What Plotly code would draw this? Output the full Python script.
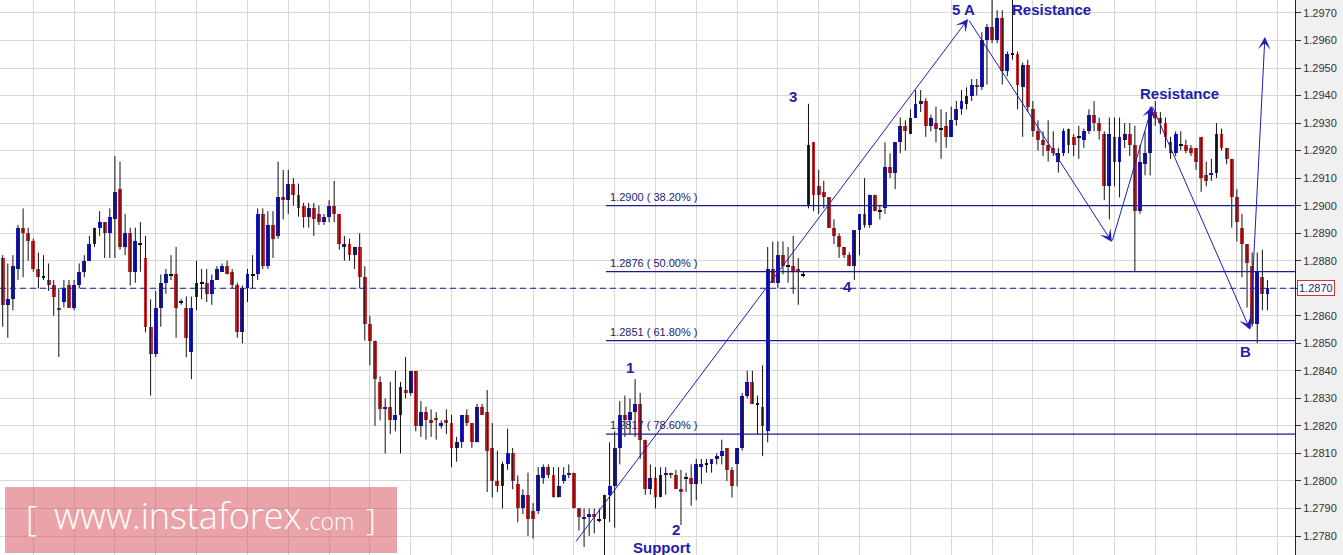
import plotly.graph_objects as go

# ---------------- data (H1 candles) ----------------
opens = [1.2881,1.2864,1.2866,1.2877,1.2892,1.2890,1.2887,1.2877,1.2874,1.2873,
         1.2871,1.2863,1.2865,1.2871,1.2863,1.2871,1.2876,1.2880,1.2886,1.2892,
         1.2894,1.2890,1.2895,1.2906,1.2885,1.2890,1.2876,1.2886,1.2881,1.2856,
         1.2846,1.2863,1.2872,1.2875,1.2875,1.2865,1.2863,1.2847,1.2867,1.2872,
         1.2872,1.2868,1.2873,1.2876,1.2878,1.2876,1.2871,1.2854,1.2870,1.2875,
         1.2875,1.2897,1.2878,1.2893,1.2889,1.2903,1.2902,1.2908,1.2904,1.2900,
         1.2896,1.2899,1.2897,1.2894,1.2896,1.2900,1.2897,1.2885,1.2886,1.2882,
         1.2885,1.2874,1.2857,1.2851,1.2836,1.2826,1.2827,1.2822,1.2824,1.2833,
         1.2832,1.2840,1.2820,1.2825,1.2822,1.2823,1.2820,1.2822,1.2821,1.2812,
         1.2814,1.2824,1.2821,1.2814,1.2827,1.2825,1.2812,1.2800,1.2798,1.2806,
         1.2810,1.2799,1.2790,1.2795,1.2789,1.2789,1.2801,1.2805,1.2802,1.2794,
         1.2800,1.2802,1.2803,1.2790,1.2786,1.2787,1.2788,1.2786,1.2786,1.2795,
         1.2798,1.2812,1.2824,1.2822,1.2825,1.2828,1.2815,1.2797,1.2801,1.2794,
         1.2802,1.2803,1.2802,1.2797,1.2801,1.2801,1.2799,1.2805,1.2806,1.2806,
         1.2808,1.2809,1.2812,1.2804,1.2806,1.2812,1.2831,1.2836,1.2828,1.2827,
         1.2818,1.2877,1.2872,1.2882,1.2878,1.2878,1.2877,1.2875,1.2900,1.2923,
         1.2907,1.2905,1.2903,1.2892,1.2889,1.2885,1.2882,1.2878,1.2891,1.2897,
         1.2893,1.2904,1.2898,1.2899,1.2914,1.2912,1.2923,1.2929,1.2926,1.2932,
         1.2937,1.2938,1.2929,1.2930,1.2928,1.2929,1.2925,1.2931,1.2935,1.2937,
         1.2940,1.2944,1.2943,1.2960,1.2965,1.2960,1.2968,1.2949,1.2955,1.2955,
         1.2943,1.2951,1.2935,1.2927,1.2924,1.2922,1.2921,1.2916,1.2919,1.2928,
         1.2925,1.2925,1.2924,1.2927,1.2933,1.2930,1.2926,1.2907,1.2925,1.2916,
         1.2924,1.2926,1.2922,1.2898,1.2915,1.2919,1.2934,1.2932,1.2930,1.2923,
         1.2919,1.2922,1.2922,1.2921,1.2921,1.2925,1.2911,1.2911,1.2912,1.2926,
         1.2921,1.2917,1.2903,1.2892,1.2886,1.2878,1.2857,1.2874,1.2868]
highs = [1.2882,1.2879,1.2882,1.2893,1.2899,1.2892,1.2888,1.2883,1.2882,1.2879,
         1.2873,1.2870,1.2873,1.2873,1.2873,1.2879,1.2882,1.2889,1.2892,1.2898,
         1.2894,1.2899,1.2918,1.2916,1.2897,1.2892,1.2892,1.2894,1.2889,1.2866,
         1.2869,1.2875,1.2877,1.2882,1.2885,1.2866,1.2867,1.2867,1.2880,1.2877,
         1.2877,1.2875,1.2878,1.2879,1.2880,1.2877,1.2872,1.2871,1.2877,1.2882,
         1.2899,1.2899,1.2898,1.2898,1.2916,1.2913,1.2913,1.2910,1.2908,1.2901,
         1.2901,1.2901,1.2900,1.2897,1.2902,1.2909,1.2897,1.2889,1.2888,1.2885,
         1.2890,1.2878,1.2860,1.2851,1.2838,1.2830,1.2836,1.2840,1.2836,1.2845,
         1.2840,1.2840,1.2829,1.2827,1.2826,1.2825,1.2822,1.2826,1.2824,1.2816,
         1.2824,1.2826,1.2821,1.2828,1.2828,1.2833,1.2821,1.2811,1.2807,1.2819,
         1.2812,1.2802,1.2797,1.2803,1.2792,1.2805,1.2806,1.2806,1.2805,1.2805,
         1.2805,1.2806,1.2803,1.2790,1.2790,1.2790,1.2790,1.2790,1.2795,1.2814,
         1.2818,1.2829,1.2831,1.2830,1.2837,1.2832,1.2815,1.2806,1.2805,1.2805,
         1.2805,1.2803,1.2804,1.2804,1.2803,1.2806,1.2808,1.2808,1.2808,1.2808,
         1.2810,1.2815,1.2812,1.2805,1.2812,1.2832,1.2840,1.2840,1.2831,1.2842,
         1.2885,1.2887,1.2887,1.2887,1.2885,1.2889,1.2881,1.2876,1.2937,1.2923,
         1.2913,1.2909,1.2903,1.2895,1.2890,1.2885,1.2883,1.2891,1.2897,1.2910,
         1.2904,1.2904,1.2900,1.2923,1.2919,1.2923,1.2932,1.2931,1.2935,1.2942,
         1.2942,1.2939,1.2933,1.2936,1.2935,1.2934,1.2936,1.2938,1.2942,1.2943,
         1.2946,1.2946,1.2963,1.2966,1.2975,1.2971,1.2971,1.2956,1.2975,1.2956,
         1.2952,1.2953,1.2938,1.2931,1.2927,1.2931,1.2927,1.2921,1.2928,1.2928,
         1.2926,1.2929,1.2928,1.2935,1.2938,1.2932,1.2927,1.2932,1.2932,1.2932,
         1.2930,1.2930,1.2929,1.2922,1.2927,1.2936,1.2938,1.2934,1.2932,1.2925,
         1.2927,1.2927,1.2924,1.2922,1.2921,1.2925,1.2916,1.2917,1.2930,1.2928,
         1.2921,1.2917,1.2906,1.2897,1.2886,1.2883,1.2883,1.2884,1.2873]
lows = [1.2856,1.2852,1.2862,1.2873,1.2874,1.2880,1.2876,1.2870,1.2873,1.2869,
        1.2860,1.2845,1.2863,1.2863,1.2862,1.2870,1.2874,1.2880,1.2885,1.2889,
        1.2881,1.2881,1.2881,1.2884,1.2882,1.2871,1.2872,1.2876,1.2854,1.2831,
        1.2845,1.2856,1.2868,1.2873,1.2852,1.2864,1.2845,1.2837,1.2862,1.2866,
        1.2865,1.2864,1.2873,1.2876,1.2875,1.2870,1.2852,1.2850,1.2865,1.2870,
        1.2873,1.2877,1.2877,1.2881,1.2888,1.2895,1.2897,1.2900,1.2896,1.2892,
        1.2892,1.2889,1.2893,1.2893,1.2894,1.2894,1.2884,1.2880,1.2880,1.2877,
        1.2870,1.2851,1.2842,1.2820,1.2822,1.2810,1.2817,1.2818,1.2810,1.2830,
        1.2831,1.2818,1.2816,1.2815,1.2816,1.2815,1.2819,1.2817,1.2805,1.2807,
        1.2812,1.2820,1.2812,1.2814,1.2824,1.2796,1.2794,1.2796,1.2790,1.2804,
        1.2797,1.2785,1.2788,1.2780,1.2779,1.2788,1.2799,1.2801,1.2794,1.2794,
        1.2799,1.2801,1.2790,1.2782,1.2776,1.2780,1.2781,1.2785,1.2772,1.2785,
        1.2783,1.2806,1.2816,1.2817,1.2816,1.2808,1.2795,1.2795,1.2790,1.2794,
        1.2795,1.2801,1.2797,1.2784,1.2796,1.2791,1.2793,1.2799,1.2803,1.2803,
        1.2806,1.2806,1.2800,1.2794,1.2798,1.2811,1.2830,1.2828,1.2817,1.2809,
        1.2814,1.2872,1.2870,1.2875,1.2872,1.2868,1.2864,1.2874,1.2899,1.2898,
        1.2897,1.2899,1.2892,1.2886,1.2881,1.2881,1.2878,1.2873,1.2882,1.2892,
        1.2892,1.2898,1.2895,1.2897,1.2910,1.2906,1.2919,1.2920,1.2926,1.2932,
        1.2934,1.2925,1.2927,1.2923,1.2917,1.2921,1.2925,1.2929,1.2933,1.2935,
        1.2938,1.2940,1.2942,1.2944,1.2959,1.2959,1.2944,1.2947,1.2953,1.2935,
        1.2925,1.2934,1.2925,1.2920,1.2918,1.2916,1.2918,1.2912,1.2918,1.2919,
        1.2918,1.2917,1.2921,1.2926,1.2927,1.2924,1.2902,1.2895,1.2907,1.2903,
        1.2921,1.2918,1.2876,1.2897,1.2911,1.2911,1.2929,1.2926,1.2921,1.2917,
        1.2918,1.2920,1.2919,1.2918,1.2913,1.2905,1.2907,1.2909,1.2910,1.2920,
        1.2915,1.2892,1.2887,1.2874,1.2863,1.2856,1.2850,1.2862,1.2862]
closes = [1.2864,1.2866,1.2878,1.2892,1.2890,1.2887,1.2877,1.2874,1.2874,1.2871,
          1.2867,1.2862,1.2870,1.2863,1.2871,1.2876,1.2880,1.2886,1.2892,1.2894,
          1.2890,1.2896,1.2905,1.2885,1.2890,1.2876,1.2887,1.2886,1.2856,1.2846,
          1.2863,1.2872,1.2875,1.2875,1.2863,1.2865,1.2852,1.2863,1.2872,1.2872,
          1.2868,1.2873,1.2877,1.2878,1.2875,1.2871,1.2854,1.2870,1.2875,1.2875,
          1.2897,1.2878,1.2893,1.2888,1.2903,1.2902,1.2908,1.2904,1.2899,1.2896,
          1.2899,1.2895,1.2894,1.2896,1.2900,1.2897,1.2886,1.2886,1.2882,1.2885,
          1.2874,1.2857,1.2851,1.2837,1.2826,1.2827,1.2822,1.2824,1.2834,1.2832,
          1.2840,1.2820,1.2825,1.2822,1.2821,1.2822,1.2821,1.2821,1.2812,1.2814,
          1.2824,1.2821,1.2814,1.2827,1.2824,1.2811,1.2800,1.2798,1.2806,1.2810,
          1.2800,1.2790,1.2795,1.2786,1.2786,1.2802,1.2805,1.2802,1.2794,1.2798,
          1.2802,1.2803,1.2790,1.2787,1.2787,1.2788,1.2787,1.2786,1.2795,1.2798,
          1.2812,1.2824,1.2822,1.2825,1.2828,1.2815,1.2797,1.2801,1.2794,1.2802,
          1.2803,1.2802,1.2797,1.2796,1.2801,1.2799,1.2806,1.2806,1.2806,1.2808,
          1.2809,1.2811,1.2804,1.2798,1.2812,1.2831,1.2836,1.2828,1.2828,1.2820,
          1.2877,1.2872,1.2882,1.2878,1.2878,1.2876,1.2876,1.2875,1.2922,1.2904,
          1.2904,1.2903,1.2892,1.2889,1.2885,1.2882,1.2878,1.2891,1.2897,1.2893,
          1.2904,1.2898,1.2898,1.2914,1.2912,1.2923,1.2929,1.2927,1.2932,1.2937,
          1.2938,1.2929,1.2932,1.2928,1.2928,1.2925,1.2931,1.2935,1.2938,1.2940,
          1.2944,1.2943,1.2960,1.2965,1.2960,1.2968,1.2949,1.2955,1.2955,1.2944,
          1.2951,1.2936,1.2927,1.2924,1.2922,1.2920,1.2919,1.2919,1.2927,1.2922,
          1.2922,1.2925,1.2927,1.2933,1.2930,1.2927,1.2907,1.2926,1.2916,1.2925,
          1.2926,1.2922,1.2898,1.2916,1.2919,1.2934,1.2932,1.2930,1.2925,1.2919,
          1.2926,1.2922,1.2920,1.2919,1.2916,1.2910,1.2909,1.2912,1.2926,1.2921,
          1.2917,1.2903,1.2894,1.2886,1.2879,1.2857,1.2876,1.2868,1.2870]

price_ticks = [1.2780,1.2790,1.2800,1.2810,1.2820,1.2830,1.2840,1.2850,1.2860,1.2870,
               1.2880,1.2890,1.2900,1.2910,1.2920,1.2930,1.2940,1.2950,1.2960,1.2970]
time_grid = [6,14,22,30,38,48,56,64,72,80,88,96,104,112,120,128,136,144,152,160,
             168,178,186,194,202,210,218,226,234,242,250]

fib_levels = [1.2900, 1.2876, 1.2851, 1.2817]
fib_texts = ["1.2900 ( 38.20% )", "1.2876 ( 50.00% )", "1.2851 ( 61.80% )", "1.2817 ( 78.60% )"]
fib_start = 118.3
last_price = 1.2870

wave_x = [112.2, 189.3, 217.5, 225.4, 244.6, 247.5]
wave_y = [1.27775, 1.29678, 1.28868, 1.29362, 1.28549, 1.29613]

label_texts = ["5 A", "Resistance", "3", "Resistance", "4", "1", "2", "Support", "B"]
label_x = [188.3, 205.6, 155.0, 230.8, 165.7, 123.0, 132.0, 129.3, 243.6]
label_y = [1.29711, 1.29713, 1.29395, 1.29406, 1.28705, 1.28411, 1.27822, 1.27757, 1.28469]

X_RANGE = [-0.53, 253.4]
Y_RANGE = [1.27731, 1.29747]

BLUE = "#1717c4"
RED = "#d22a2e"
NAVY = "#1c1c8c"
LABEL = "#1e1ea6"

n = len(opens)
idx = list(range(n))

# wicks
wx, wy = [], []
for i in idx:
    wx += [i, i, None]
    wy += [lows[i], highs[i], None]

# bodies
base, height, colors = [], [], []
for i in idx:
    o, c = opens[i], closes[i]
    lo = min(o, c)
    h = abs(c - o)
    if h < 0.00004:
        h = 0.00004
        lo = (o + c) / 2 - 0.00002
        colors.append("#111111")
    else:
        colors.append(BLUE if c > o else RED)
    base.append(lo)
    height.append(h)

fig = go.Figure()
fig.add_trace(go.Scatter(x=wx, y=wy, mode="lines", line=dict(color="#111111", width=1),
                         hoverinfo="skip", showlegend=False))
fig.add_trace(go.Bar(x=idx, y=height, base=base, width=0.75, marker=dict(color=colors, line=dict(width=0)),
                     hoverinfo="skip", showlegend=False))

shapes = []
annotations = []

# fibonacci levels
for lvl, txt in zip(fib_levels, fib_texts):
    shapes.append(dict(type="line", xref="x", yref="y", x0=fib_start, x1=X_RANGE[1], y0=lvl, y1=lvl,
                       line=dict(color=NAVY, width=1.3), layer="above"))
    annotations.append(dict(x=fib_start + 0.4, y=lvl, xref="x", yref="y", text=txt, showarrow=False,
                            xanchor="left", yanchor="bottom", yshift=1,
                            font=dict(family="Liberation Sans, Arial", size=11, color="#22226e")))

# current price dashed line
shapes.append(dict(type="line", xref="paper", yref="y", x0=0, x1=1, y0=last_price, y1=last_price,
                   line=dict(color=NAVY, width=1.2, dash="6px,4px"), layer="above"))

# wave arrows
for k in range(len(wave_x) - 1):
    annotations.append(dict(x=wave_x[k + 1], y=wave_y[k + 1], ax=wave_x[k], ay=wave_y[k],
                            xref="x", yref="y", axref="x", ayref="y", text="", showarrow=True,
                            arrowhead=3, arrowsize=2.1, arrowwidth=1, arrowcolor="#1d1db8",
                            standoff=0, startstandoff=0))

# wave labels
for t, x, y in zip(label_texts, label_x, label_y):
    annotations.append(dict(x=x, y=y, xref="x", yref="y", text="<b>%s</b>" % t, showarrow=False,
                            font=dict(family="Liberation Sans, Arial", size=15, color=LABEL)))

# current price box (replaces the tick label at that level)
annotations.append(dict(x=1, y=last_price, xref="paper", yref="y", text="%.4f" % last_price,
                        showarrow=False, xanchor="left", xshift=2, bgcolor="white",
                        bordercolor="#cc3333", borderwidth=1, borderpad=1,
                        font=dict(family="Liberation Sans, Arial", size=11, color="#22227a")))
tick_text = ["" if abs(v - last_price) < 1e-9 else "%.4f" % v for v in price_ticks]

# watermark
W, H = 1295.0, 555.0
shapes.append(dict(type="rect", xref="paper", yref="paper", x0=5 / W, x1=397 / W,
                   y0=1 - 553 / H, y1=1 - 487 / H, fillcolor="rgba(214,72,82,0.5)",
                   line=dict(width=0), layer="above"))
wm_font = dict(family="Open Sans, Lato, sans-serif", color="white")
annotations.append(dict(x=24 / W, y=1 - 518 / H, xref="paper", yref="paper", text="[", showarrow=False,
                        xanchor="left", yanchor="middle", font=dict(size=34, weight=300, **wm_font)))
annotations.append(dict(x=52 / W, y=1 - 515 / H, xref="paper", yref="paper", text="www.instaforex",
                        showarrow=False, xanchor="left", yanchor="middle",
                        font=dict(size=36, weight=300, **wm_font)))
annotations.append(dict(x=302 / W, y=1 - 521 / H, xref="paper", yref="paper", text=".com",
                        showarrow=False, xanchor="left", yanchor="middle",
                        font=dict(size=23, weight=300, **wm_font)))
annotations.append(dict(x=364 / W, y=1 - 518 / H, xref="paper", yref="paper", text="]", showarrow=False,
                        xanchor="left", yanchor="middle", font=dict(size=30, weight=300, **wm_font)))

fig.update_layout(
    width=1343, height=555,
    margin=dict(l=0, r=48, t=0, b=0, pad=0),
    paper_bgcolor="#f0f0f0", plot_bgcolor="white",
    showlegend=False, bargap=0,
    shapes=shapes, annotations=annotations,
    xaxis=dict(range=X_RANGE, tickvals=time_grid, showticklabels=False, showgrid=True,
               gridcolor="#d9d9d9", gridwidth=1, zeroline=False, showline=False, fixedrange=True),
    yaxis=dict(range=Y_RANGE, side="right", tickvals=price_ticks, ticktext=tick_text,
               showgrid=True, gridcolor="#d9d9d9",
               gridwidth=1, zeroline=False, showline=True, linecolor="#222222", linewidth=1,
               ticks="outside", ticklen=5, tickcolor="#333333",
               tickfont=dict(family="Liberation Sans, Arial", size=11, color="#333333"),
               fixedrange=True),
)

fig.write_html("out.html", config={"displayModeBar": False},
               post_script="document.body.style.margin='0';document.body.style.overflow='hidden';")
